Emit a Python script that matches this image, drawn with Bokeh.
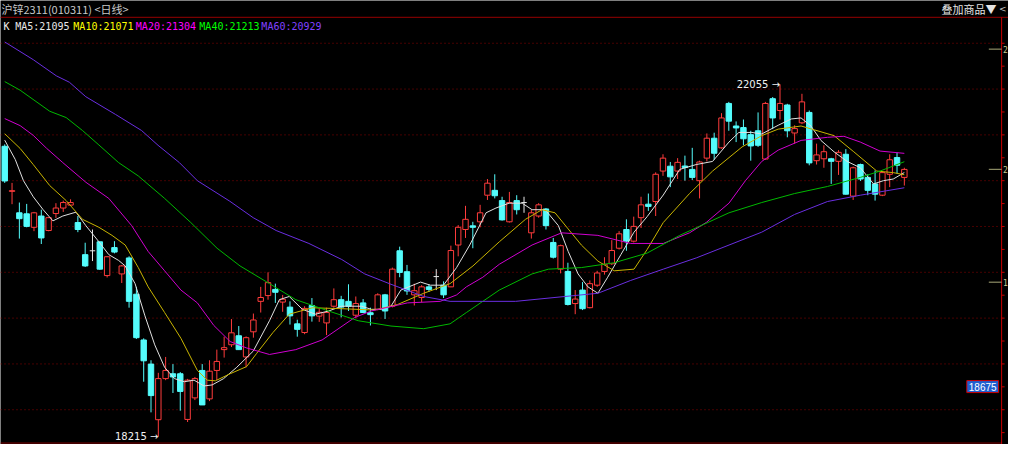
from bokeh.plotting import figure
from bokeh.models import Range1d, Label, ColumnDataSource
from bokeh.embed import file_html
from bokeh.resources import INLINE

# ---------------- data ----------------
title_text = "沪锌2311(010311) <日线>"
overlay_text = "叠加商品▼"
legend_names = ["MA5", "MA10", "MA20", "MA40", "MA60"]
legend_values = [21095, 21071, 21304, 21213, 20929]
high_mark = (106, 22055)
low_mark = (21, 18215)
cursor_box_text = "18675"
axis_tick_values = [22440, 21130, 19900]
axis_tick_glyphs = ["2", "2", "1"]   # only the first digit shows at the window edge

opens = [21381, 20890, 20656, 20645, 20498, 20621, 20463, 20648, 20708, 20740,
         20550, 20200, 20242, 20340, 19972, 20277, 19990, 20164, 19769, 19270,
         19007, 18401, 18849, 18902, 18902, 18404, 18639, 18938, 18628, 18938,
         19165, 19218, 19316, 19085, 19359, 19691, 19754, 19821, 19683, 19628,
         19446, 19351, 19646, 19530, 19456, 19638, 19709, 19691, 19540, 19674,
         19567, 19604, 19762, 19638, 20242, 20014, 19762, 19733, 19849, 19961,
         19867, 19849, 20305, 20474, 20514, 20558, 20848, 20901, 20789, 20558,
         20789, 20768, 20438, 20621, 20698, 20333, 20042, 20017, 19667, 19814,
         19622, 19867, 20017, 20101, 20270, 20474, 20347, 20603, 20750, 20779,
         21111, 21164, 21111, 21166, 21129, 21006, 21252, 21469, 21364, 21848,
         21602, 21585, 21508, 21550, 21242, 21900, 21771, 21831, 21526, 21637,
         21750, 21224, 21245, 21245, 21217, 21294, 20838, 21182, 21042, 20971,
         20848, 21076, 21258, 21042]
highs = [21402, 20982, 20768, 20753, 20666, 20690, 20610, 20761, 20789, 20803,
         20621, 20330, 20474, 20340, 20182, 20347, 20087, 20182, 19849, 19288,
         19049, 18912, 19085, 19007, 18920, 18846, 18867, 19007, 19049, 19165,
         19306, 19498, 19422, 19309, 19558, 19849, 20007, 19884, 19761, 19691,
         19491, 19638, 19727, 19614, 19622, 19832, 19751, 19877, 19744, 19716,
         19622, 19779, 19772, 20059, 20287, 20088, 19884, 19867, 19877, 20042,
         19909, 20298, 20522, 20732, 20558, 20743, 21024, 21076, 20831, 20884,
         20848, 20831, 20687, 20761, 20708, 20382, 20309, 20112, 19814, 19901,
         19919, 20024, 20172, 20358, 20456, 20585, 20614, 20831, 20866, 21097,
         21294, 21210, 21252, 21279, 21364, 21224, 21521, 21529, 21742, 21865,
         21652, 21673, 21550, 21750, 21865, 21918, 22055, 21844, 21610, 21953,
         21771, 21410, 21392, 21255, 21339, 21350, 21160, 21192, 21076, 21118,
         21108, 21294, 21315, 21147]
lows = [20982, 20750, 20375, 20498, 20456, 20316, 20455, 20600, 20666, 20732,
        20445, 20066, 20130, 20035, 19951, 20214, 19891, 19622, 19281, 18815,
        18481, 18215, 18832, 18692, 18499, 18376, 18615, 18562, 18604, 18832,
        19078, 19193, 19162, 18972, 19295, 19569, 19709, 19674, 19577, 19438,
        19306, 19333, 19470, 19467, 19323, 19622, 19516, 19586, 19506, 19562,
        19428, 19593, 19499, 19625, 19954, 19762, 19646, 19681, 19793, 19814,
        19727, 19846, 20182, 20382, 20270, 20498, 20796, 20813, 20571, 20550,
        20638, 20656, 20375, 20603, 20474, 20158, 19996, 19646, 19551, 19596,
        19614, 19849, 19982, 20088, 20256, 20242, 20333, 20491, 20677, 20621,
        21059, 20936, 21024, 21006, 21013, 20813, 21216, 21234, 21355, 21550,
        21427, 21392, 21224, 21374, 21234, 21568, 21673, 21479, 21410, 21623,
        21174, 21182, 21147, 20971, 21069, 20855, 20796, 21003, 20848, 20789,
        20838, 20936, 21084, 20953]
closes = [21003, 20897, 20592, 20508, 20656, 20382, 20603, 20708, 20768, 20768,
          20474, 20077, 20242, 20042, 20177, 20228, 20077, 19691, 19295, 19043,
          18664, 18849, 18938, 18867, 18709, 18832, 18849, 18562, 18930, 19036,
          19186, 19348, 19165, 19295, 19488, 19733, 19895, 19790, 19714, 19533,
          19386, 19614, 19533, 19572, 19569, 19709, 19628, 19638, 19667, 19569,
          19546, 19762, 19586, 20042, 20006, 19804, 19807, 19849, 19821, 19961,
          19762, 20245, 20498, 20585, 20498, 20656, 20979, 20842, 20579, 20768,
          20690, 20768, 20656, 20743, 20516, 20172, 20298, 19657, 19716, 19611,
          19884, 20000, 20095, 20245, 20427, 20347, 20508, 20743, 20726, 21076,
          21252, 21048, 21206, 21150, 21042, 21210, 21469, 21305, 21690, 21655,
          21581, 21463, 21385, 21392, 21848, 21690, 21848, 21550, 21574, 21865,
          21200, 21287, 21322, 21217, 21315, 20859, 21147, 21024, 20901, 20859,
          21094, 21234, 21174, 21129]

# moving-average curves (candle index, price)
ma5_x = [0, 1.44, 2.56, 3.9, 5.25, 6.59, 7.94, 9.74, 11.09, 12.88,
         14.23, 15.57, 16.47, 17.82, 19.17, 20.51, 21.86, 23.2, 24.55, 25.89,
         27.24, 28.36, 29.93, 31.72, 33.97, 36.2, 37.55, 38.9, 40.7, 42.49,
         44.28, 46.08, 48.77, 50.12, 51.47, 52.81, 54.16, 56.85, 58.2, 59.99,
         61.78, 63.58, 65.81, 67.16, 68.96, 70.75, 72.1, 73.89, 75.7, 77.04,
         78.39, 79.74, 81.1, 82.44, 84.24, 86.04, 87.83, 90.04, 92.29, 94.54,
         96.78, 99.02, 100.37, 102.15, 103.5, 105.75, 107.54, 108.88, 110.23, 111.59,
         113.39, 115.18, 116.98, 118.79, 120.13, 121.48, 123]
ma5_y = [21448, 21237, 21006, 20831, 20690, 20568, 20621, 20663, 20516, 20340,
         20200, 20137, 20077, 19884, 19533, 19217, 18972, 18849, 18815, 18832,
         18769, 18780, 18849, 18972, 19148, 19480, 19709, 19744, 19604, 19551,
         19586, 19638, 19638, 19604, 19604, 19638, 19814, 19901, 19867, 19867,
         20059, 20305, 20656, 20708, 20761, 20761, 20690, 20690, 20516, 20235,
         19990, 19849, 19779, 19954, 20200, 20445, 20614, 20850, 21129, 21182,
         21216, 21427, 21532, 21532, 21515, 21610, 21679, 21690, 21602, 21445,
         21321, 21216, 21147, 20971, 21006, 21024, 21095]
ma10_x = [0, 2.11, 3.9, 6.15, 8.4, 10.63, 12.88, 14.67, 16.47, 18.26,
          19.61, 21.86, 24.09, 26.34, 27.69, 28.8, 30.82, 33.07, 34.41, 36.66,
          38.9, 42.05, 46.08, 50.57, 53.7, 57.29, 60.89, 64.02, 67.62, 71.2,
          73.45, 75.24, 77.04, 78.84, 81.1, 83.34, 86.04, 87.83, 90.04, 93.63,
          96.78, 100.81, 103.5, 105.75, 108.88, 110.69, 113.39, 116.09, 119.23, 121.48,
          123]
ma10_y = [21518, 21357, 21182, 20953, 20789, 20585, 20498, 20410, 20305, 20059,
          19849, 19569, 19288, 18938, 18832, 18825, 18902, 18980, 19120, 19350,
          19551, 19621, 19611, 19596, 19656, 19779, 19884, 20077, 20340, 20585,
          20690, 20656, 20480, 20305, 20130, 20024, 20042, 20256, 20550, 20866,
          21111, 21374, 21497, 21568, 21602, 21560, 21497, 21321, 21111, 21094,
          21071]
ma20_x = [0, 2.11, 3.9, 5.71, 7.94, 11.09, 14.23, 17.36, 19.61, 21.86,
          24.09, 26.34, 28.59, 30.82, 33.07, 36.2, 39.8, 43.39, 47.87, 50.12,
          55.05, 59.54, 61.78, 63.12, 65.37, 67.62, 72.1, 76.14, 81.1, 85.59,
          90.04, 93.63, 95.9, 99.02, 101.27, 103.5, 105.75, 108.88, 112.49, 114.74,
          116.98, 119.68, 123]
ma20_y = [21683, 21606, 21500, 21360, 21203, 20989, 20813, 20516, 20235, 20024,
          19814, 19674, 19428, 19253, 19183, 19112, 19165, 19270, 19516, 19586,
          19674, 19691, 19761, 19849, 19954, 20095, 20305, 20438, 20410, 20322,
          20322, 20438, 20550, 20761, 21006, 21216, 21339, 21445, 21479, 21490,
          21427, 21329, 21304]
ma40_x = [0, 2.11, 6.15, 8.4, 10.63, 12.88, 15.57, 18.26, 21.86, 25.44,
          29.03, 32.17, 36.2, 39.8, 44.28, 48.32, 52.81, 57.29, 60.89, 63.12,
          67.62, 72.1, 74.35, 78.84, 83.34, 87.83, 92.29, 99.02, 103.5, 107.99,
          112.49, 116.98, 119.68, 123]
ma40_y = [22086, 21992, 21763, 21694, 21553, 21395, 21203, 21058, 20813, 20550,
          20270, 20077, 19884, 19709, 19586, 19480, 19422, 19393, 19446, 19569,
          19814, 19990, 20042, 20059, 20112, 20217, 20410, 20656, 20768, 20866,
          20943, 21042, 21111, 21213]
ma60_x = [0, 3.9, 7.05, 8.84, 11.09, 15.13, 18.71, 20.96, 23.88, 26.34,
          30.78, 33.97, 37.11, 41.59, 46.08, 49.22, 52.81, 57.29, 60.89, 65.37,
          69.85, 76.59, 81.1, 85.59, 90.04, 94.54, 103.5, 107.99, 112.49, 116.98,
          123]
ma60_y = [22518, 22325, 22149, 22079, 21921, 21729, 21553, 21392, 21203, 21006,
          20782, 20603, 20463, 20322, 20147, 19990, 19877, 19744, 19691, 19691,
          19691, 19744, 19779, 19919, 20042, 20164, 20445, 20638, 20779, 20848,
          20929]

# ---------------- layout ----------------
W, H = 1008, 444
RW, RH = 1024.0, 460.0
X0, DX = 4.3, 7.43          # reference px of first candle, candle pitch
PTOP, PPX = 22970.0, 10.52  # price at top edge, price per reference px
AXIS_PX = 1017.0            # right axis line (reference px)


def rx(px):
    return (px - X0) / DX


def ry(py):
    return PTOP - py * PPX


def sx(px):
    return px * W / RW


def sy(py):
    return H - py * H / RH


p = figure(width=W, height=H, x_range=Range1d(rx(0), rx(RW)), y_range=Range1d(ry(RH), ry(0)),
           output_backend="svg", toolbar_location=None, x_axis_type=None, y_axis_type=None,
           min_border=0, background_fill_color="#000000", border_fill_color="#000000",
           outline_line_color=None)

# dotted grid
gys = [ry(44.3 + 47.46 * k) for k in range(9)]
p.segment(x0=[rx(0)] * len(gys), x1=[rx(AXIS_PX - 1)] * len(gys), y0=gys, y1=gys,
          line_color="#8c0000", line_dash="1 3", line_width=1)
# header separator, bottom border, right axis
p.segment(x0=[rx(0)], x1=[rx(RW)], y0=[ry(17.5)], y1=[ry(17.5)], line_color="#780000", line_width=1.2)
p.segment(x0=[rx(0)], x1=[rx(AXIS_PX)], y0=[ry(458.5)], y1=[ry(458.5)], line_color="#800000", line_width=1)
p.segment(x0=[rx(AXIS_PX)], x1=[rx(AXIS_PX)], y0=[ry(17.5)], y1=[ry(RH)], line_color="#c80000", line_width=1)
mt = [ry(44.3 + 23.73 * k) for k in range(18)]
p.segment(x0=[rx(AXIS_PX)] * len(mt), x1=[rx(AXIS_PX + 3)] * len(mt), y0=mt, y1=mt,
          line_color="#c80000", line_width=1)
p.segment(x0=[rx(AXIS_PX - 13)] * len(axis_tick_values), x1=[rx(AXIS_PX)] * len(axis_tick_values),
          y0=axis_tick_values, y1=axis_tick_values, line_color="#a8a878", line_width=1)
for v, g in zip(axis_tick_values, axis_tick_glyphs):
    p.add_layout(Label(x=rx(AXIS_PX + 1.5), y=v, text=g, text_color="#c8c890",
                       text_font="DejaVu Sans Mono", text_font_size="8px",
                       text_baseline="middle", text_align="left"))

# candles
n = len(opens)
idx = list(range(n))
UP, DOWN, FLAT = "#ff3c3c", "#54fcfc", "#e6e6e6"
kcol, kfill = [], []
for o, c in zip(opens, closes):
    if c > o:
        kcol.append(UP); kfill.append("#000000")
    elif c < o:
        kcol.append(DOWN); kfill.append(DOWN)
    else:
        kcol.append(FLAT); kfill.append(FLAT)
src = ColumnDataSource(dict(x=idx, l=lows, h=highs, col=kcol))
p.segment(x0="x", x1="x", y0="l", y1="h", line_color="col", line_width=1, source=src)
body_idx = [i for i in idx if opens[i] != closes[i]]
bsrc = ColumnDataSource(dict(x=[idx[i] for i in body_idx],
                             top=[max(opens[i], closes[i]) for i in body_idx],
                             bot=[min(opens[i], closes[i]) for i in body_idx],
                             col=[kcol[i] for i in body_idx], fill=[kfill[i] for i in body_idx]))
p.vbar(x="x", width=0.74, top="top", bottom="bot", fill_color="fill", line_color="col",
       line_width=1, source=bsrc)
flat_idx = [i for i in idx if opens[i] == closes[i]]
p.segment(x0=[i - 0.37 for i in flat_idx], x1=[i + 0.37 for i in flat_idx],
          y0=[opens[i] for i in flat_idx], y1=[opens[i] for i in flat_idx],
          line_color=FLAT, line_width=1)

# moving averages
ma_line_colors = ["#e0e0e0", "#c8b400", "#d000d0", "#00b800", "#6a2ee0"]
for xs, ys, col in zip([ma5_x, ma10_x, ma20_x, ma40_x, ma60_x],
                       [ma5_y, ma10_y, ma20_y, ma40_y, ma60_y], ma_line_colors):
    p.line(xs, ys, line_color=col, line_width=1)

# high / low marks
for mx, my in (high_mark, low_mark):
    p.add_layout(Label(x=mx, y=my, text=f"{my} →", text_color="#f0f0f0",
                       text_font="DejaVu Sans", text_font_size="10px", text_align="right",
                       text_baseline="middle", x_offset=0))

# header
p.add_layout(Label(x=sx(1), y=sy(9), x_units="screen", y_units="screen", text=title_text,
                   text_color="#c8c8c8", text_font="Noto Sans CJK SC", text_font_size="11px",
                   text_baseline="middle"))
p.add_layout(Label(x=W - 12, y=sy(9), x_units="screen", y_units="screen", text=overlay_text,
                   text_color="#e4e4e4", text_font="Noto Sans CJK SC", text_font_size="11px",
                   text_baseline="middle", text_align="right"))
p.add_layout(Label(x=W - 2, y=sy(9), x_units="screen", y_units="screen", text="<",
                   text_color="#c8c8c8", text_font="DejaVu Sans", text_font_size="9px",
                   text_baseline="middle", text_align="right"))

legend_text_colors = ["#e8e8e8", "#ffff00", "#ff00ff", "#00ff00", "#8040ff"]
legend_px = [15, 74, 137.5, 202, 265]
p.add_layout(Label(x=sx(3), y=sy(27), x_units="screen", y_units="screen", text="K",
                   text_color="#f0f0f0", text_font="DejaVu Sans Mono", text_font_size="10px",
                   text_baseline="middle"))
for name, val, col, px in zip(legend_names, legend_values, legend_text_colors, legend_px):
    p.add_layout(Label(x=sx(px), y=sy(27), x_units="screen", y_units="screen",
                       text=f"{name}:{val}", text_color=col, text_font="DejaVu Sans Mono",
                       text_font_size="10px", text_baseline="middle"))

# cursor price box
p.add_layout(Label(x=sx(AXIS_PX) - 3, y=sy(400), x_units="screen", y_units="screen", text=cursor_box_text,
                   text_color="#ffffff", text_font="Liberation Sans", text_font_size="10px",
                   text_align="right", text_baseline="middle", background_fill_color="#1f5fcf",
                   border_line_color="#d00000", border_line_width=1, padding=2))

open("out.html", "w", encoding="utf-8").write(file_html(p, INLINE))
